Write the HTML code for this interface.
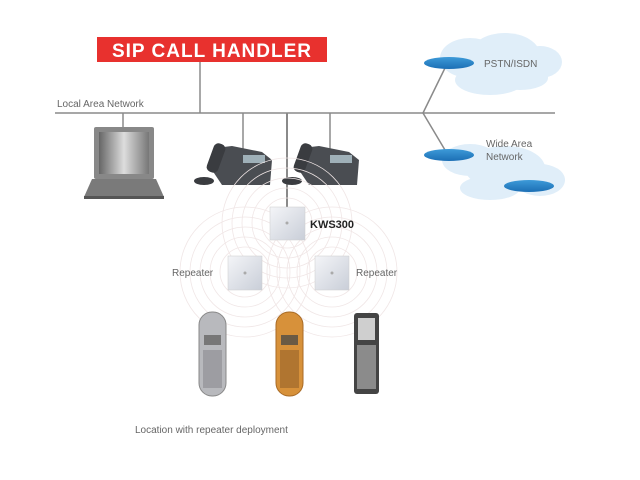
<!DOCTYPE html>
<html><head><style>html,body{margin:0;padding:0;background:#fff}svg{display:block}text{font-family:"Liberation Sans",sans-serif}</style></head><body>
<svg width="640" height="480" viewBox="0 0 640 480">
<defs>
<linearGradient id="disc" x1="0" y1="0" x2="0" y2="1"><stop offset="0" stop-color="#3d9ad8"/><stop offset="1" stop-color="#1c6fb5"/></linearGradient>
<linearGradient id="scr" x1="0" y1="0" x2="1" y2="0"><stop offset="0" stop-color="#666"/><stop offset=".5" stop-color="#ddd"/><stop offset="1" stop-color="#777"/></linearGradient>
<linearGradient id="box" x1="0" y1="0" x2="1" y2="1"><stop offset="0" stop-color="#f4f5f8"/><stop offset="1" stop-color="#c9ced8"/></linearGradient>
</defs>
<g fill="#e0eef9">
<ellipse cx="470" cy="58" rx="30" ry="20"/><ellipse cx="505" cy="55" rx="35" ry="22"/><ellipse cx="540" cy="62" rx="22" ry="16"/><ellipse cx="490" cy="80" rx="35" ry="15"/><ellipse cx="520" cy="78" rx="28" ry="12"/>
<ellipse cx="470" cy="160" rx="28" ry="16"/><ellipse cx="505" cy="168" rx="40" ry="22"/><ellipse cx="540" cy="180" rx="25" ry="16"/><ellipse cx="490" cy="188" rx="30" ry="12"/>
</g>
<g stroke="#8a8a8a" stroke-width="1.5" fill="none">
<line x1="55" y1="113" x2="555" y2="113"/>
<line x1="200" y1="62" x2="200" y2="113"/>
<line x1="123" y1="113" x2="123" y2="128"/>
<line x1="243" y1="113" x2="243" y2="150"/>
<line x1="330" y1="113" x2="330" y2="150"/>
<line x1="287" y1="113" x2="287" y2="208" stroke-width="2"/>
<line x1="423" y1="113" x2="445" y2="68"/>
<line x1="423" y1="113" x2="445" y2="150"/>
</g>
<rect x="97" y="37" width="230" height="25" fill="#e8312e"/>
<text x="212" y="57" text-anchor="middle" fill="#fff" font-weight="bold" font-size="19" letter-spacing="1">SIP CALL HANDLER</text>
<text x="57" y="107" font-size="10" fill="#666">Local Area Network</text>
<ellipse cx="449" cy="63" rx="25" ry="6" fill="url(#disc)"/>
<ellipse cx="449" cy="155" rx="25" ry="6" fill="url(#disc)"/>
<ellipse cx="529" cy="186" rx="25" ry="6" fill="url(#disc)"/>
<text x="484" y="67" font-size="10" fill="#666">PSTN/ISDN</text>
<text x="486" y="147" font-size="10" fill="#666">Wide Area</text>
<text x="486" y="160" font-size="10" fill="#666">Network</text>
<rect x="94" y="127" width="60" height="52" fill="#888" rx="2"/>
<rect x="99" y="132" width="50" height="42" fill="url(#scr)"/>
<polygon points="92,179 156,179 164,197 84,197" fill="#7a7a7a"/>
<rect x="84" y="196" width="80" height="3" fill="#555"/>
<g fill="#4a4d52">
<polygon points="215,148 232,146 262,152 272,160 270,185 222,185 212,170"/>
<rect x="210" y="143" width="12" height="30" rx="5" transform="rotate(20 216 158)" fill="#3a3c40"/>
<ellipse cx="204" cy="181" rx="10" ry="4" fill="#3a3c40"/>
<rect x="243" y="155" width="22" height="8" fill="#9fb0b8"/>
<polygon points="302,148 319,146 349,152 359,160 357,185 309,185 299,170"/>
<rect x="297" y="143" width="12" height="30" rx="5" transform="rotate(20 303 158)" fill="#3a3c40"/>
<ellipse cx="292" cy="181" rx="10" ry="4" fill="#3a3c40"/>
<rect x="330" y="155" width="22" height="8" fill="#9fb0b8"/>
</g>
<g fill="none" stroke="#f0e6e6" stroke-width="0.8">
<circle cx="287" cy="223" r="25"/><circle cx="287" cy="223" r="35"/><circle cx="287" cy="223" r="45"/><circle cx="287" cy="223" r="55"/><circle cx="287" cy="223" r="65"/>
<circle cx="245" cy="272" r="25"/><circle cx="245" cy="272" r="35"/><circle cx="245" cy="272" r="45"/><circle cx="245" cy="272" r="55"/><circle cx="245" cy="272" r="65"/>
<circle cx="332" cy="272" r="25"/><circle cx="332" cy="272" r="35"/><circle cx="332" cy="272" r="45"/><circle cx="332" cy="272" r="55"/><circle cx="332" cy="272" r="65"/>
</g>
<rect x="270" y="207" width="35" height="33" fill="url(#box)" stroke="#ccc" stroke-width=".5"/>
<circle cx="287" cy="223" r="1.5" fill="#aaa"/>
<rect x="228" y="256" width="34" height="34" fill="url(#box)" stroke="#ccc" stroke-width=".5"/>
<circle cx="245" cy="273" r="1.5" fill="#aaa"/>
<rect x="315" y="256" width="34" height="34" fill="url(#box)" stroke="#ccc" stroke-width=".5"/>
<circle cx="332" cy="273" r="1.5" fill="#aaa"/>
<text x="310" y="228" font-size="11" font-weight="bold" fill="#222">KWS300</text>
<text x="172" y="276" font-size="10" fill="#666">Repeater</text>
<text x="356" y="276" font-size="10" fill="#666">Repeater</text>
<rect x="199" y="312" width="27" height="84" rx="13" fill="#b8b9bd" stroke="#888"/>
<rect x="204" y="335" width="17" height="10" fill="#777"/>
<rect x="203" y="350" width="19" height="38" fill="#8a8b90" opacity=".6"/>
<rect x="276" y="312" width="27" height="84" rx="13" fill="#d7913a" stroke="#a86a25"/>
<rect x="281" y="335" width="17" height="10" fill="#6a5a44"/>
<rect x="280" y="350" width="19" height="38" fill="#8a5a25" opacity=".5"/>
<rect x="354" y="313" width="25" height="81" rx="3" fill="#444"/>
<rect x="358" y="318" width="17" height="22" fill="#cfcfcf"/>
<rect x="357" y="345" width="19" height="44" fill="#bbb" opacity=".6"/>
<text x="135" y="433" font-size="10" fill="#666">Location with repeater deployment</text>
</svg>
</body></html>
